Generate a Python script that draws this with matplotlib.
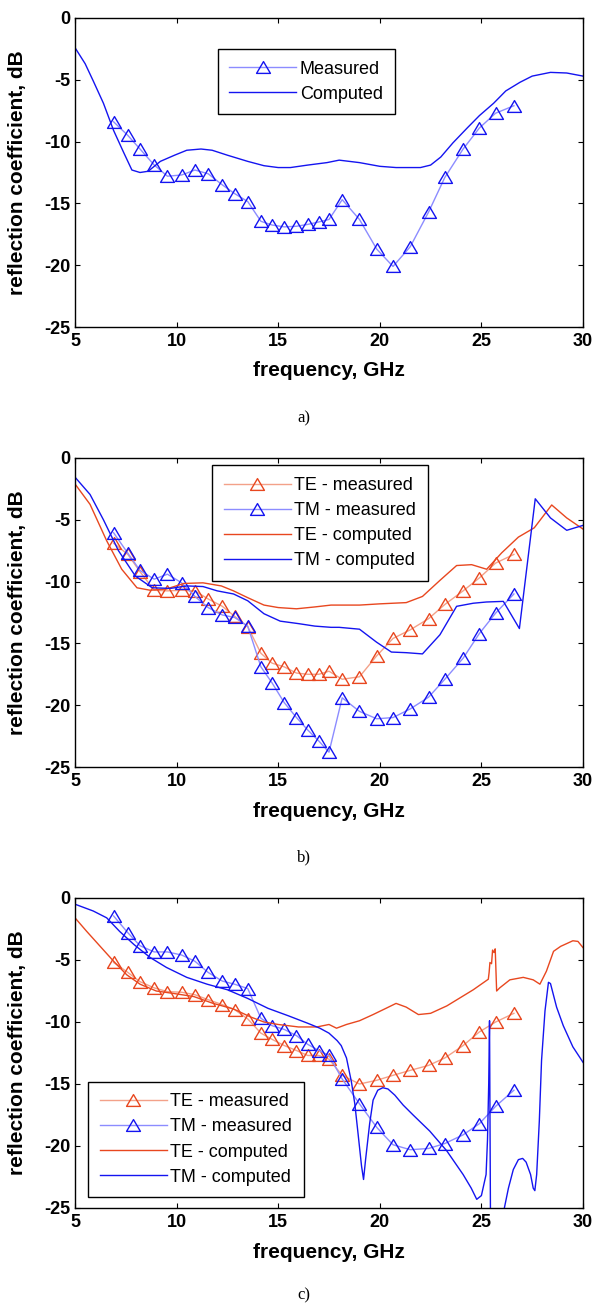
import numpy as np
import matplotlib
matplotlib.use("Agg")
import matplotlib.pyplot as plt
from matplotlib.path import Path

plt.rcParams['font.family'] = ['Liberation Sans', 'DejaVu Sans']
plt.rcParams['axes.unicode_minus'] = False

# ---------------- data ----------------
freq_meas = [6.9, 7.6, 8.2, 8.9, 9.55, 10.25, 10.9, 11.55, 12.25, 12.85, 13.5, 14.15,
             14.7, 15.3, 15.9, 16.45, 17.0, 17.5, 18.15, 19.0, 19.85, 20.65, 21.5,
             22.4, 23.2, 24.1, 24.9, 25.7, 26.6]

# panel a
a_meas = [-8.4, -9.5, -10.6, -11.9, -12.8, -12.7, -12.3, -12.6, -13.5, -14.2, -14.85,
          -16.45, -16.75, -16.9, -16.85, -16.7, -16.5, -16.3, -14.7, -16.3, -18.7,
          -20.1, -18.5, -15.7, -12.9, -10.6, -8.9, -7.7, -7.1]
a_comp_f = [5.0, 5.5, 5.9, 6.4, 6.9, 7.4, 7.8, 8.2, 8.6, 9.2, 9.9, 10.5, 11.2, 11.75,
            12.5, 13.5, 14.3, 15.0, 15.6, 16.45, 17.4, 18.0, 19.0, 20.0, 20.8, 22.0,
            22.5, 23.0, 23.6, 24.3, 24.9, 25.6, 26.2, 26.9, 27.5, 28.4, 29.2, 30.0]
a_comp = [-2.4, -3.7, -5.1, -6.9, -9.1, -10.9, -12.3, -12.5, -12.4, -11.6, -11.1, -10.7,
          -10.6, -10.7, -11.1, -11.6, -11.95, -12.1, -12.1, -11.9, -11.7, -11.5, -11.7,
          -12.0, -12.1, -12.1, -11.9, -11.25, -10.1, -8.9, -7.9, -6.9, -5.9, -5.2,
          -4.7, -4.4, -4.45, -4.7]

# panel b
b_te_meas = [-6.9, -7.8, -9.2, -10.7, -10.75, -10.7, -10.75, -11.4, -12.0, -12.8, -13.65,
             -15.8, -16.6, -16.9, -17.4, -17.5, -17.5, -17.25, -17.9, -17.7, -16.0,
             -14.6, -13.9, -13.0, -11.85, -10.75, -9.7, -8.5, -7.8]
b_tm_meas = [-6.05, -7.7, -9.1, -9.8, -9.4, -10.1, -11.2, -12.1, -12.7, -12.9, -13.6,
             -16.9, -18.2, -19.8, -21.0, -22.0, -22.9, -23.8, -19.4, -20.5, -21.1,
             -21.0, -20.3, -19.35, -17.9, -16.2, -14.2, -12.55, -11.0]
b_te_comp_f = [5.0, 5.74, 6.56, 7.3, 8.05, 8.7, 9.5, 10.35, 11.3, 12.2, 12.8, 13.5, 14.3,
               15.0, 15.9, 16.8, 17.6, 18.0, 19.0, 20.0, 21.3, 22.1, 22.96, 23.78,
               24.52, 25.26, 26.0, 26.82, 27.6, 28.46, 29.2, 30.0]
b_te_comp = [-2.1, -3.75, -6.7, -9.0, -10.5, -10.7, -10.6, -10.15, -10.1, -10.35, -10.75,
             -11.3, -11.9, -12.1, -12.2, -12.05, -11.9, -11.9, -11.9, -11.8, -11.7,
             -11.2, -9.9, -8.7, -8.63, -9.0, -7.67, -6.4, -5.65, -3.8, -4.85, -5.75]
b_tm_comp_f = [5.0, 5.74, 6.4, 7.14, 7.97, 8.8, 9.7, 10.5, 11.3, 12.0, 12.8, 13.5, 14.3,
               15.1, 16.0, 16.8, 17.6, 18.0, 19.0, 19.84, 20.57, 21.3, 22.1, 22.96,
               23.78, 24.6, 25.25, 26.08, 26.87, 27.65, 28.4, 29.2, 30.0]
b_tm_comp = [-1.55, -2.95, -5.0, -7.5, -9.55, -10.5, -10.55, -10.35, -10.4, -10.75, -11.0,
             -11.55, -12.6, -13.2, -13.4, -13.6, -13.7, -13.7, -13.85, -14.9, -15.7,
             -15.75, -15.85, -14.3, -12.0, -11.75, -11.65, -11.6, -13.8, -3.3, -4.85,
             -5.85, -5.45]

# panel c
c_te_meas = [-5.2, -6.0, -6.75, -7.25, -7.55, -7.6, -7.8, -8.2, -8.6, -9.0, -9.75, -10.9,
             -11.4, -11.9, -12.3, -12.7, -12.7, -13.0, -14.3, -15.0, -14.7, -14.3,
             -13.9, -13.5, -12.9, -11.9, -10.8, -10.0, -9.3]
c_tm_meas = [-1.45, -2.8, -3.85, -4.35, -4.35, -4.6, -5.1, -6.0, -6.7, -6.95, -7.3, -9.7,
             -10.3, -10.6, -11.1, -11.8, -12.3, -12.7, -14.6, -16.6, -18.5, -19.9,
             -20.3, -20.2, -19.8, -19.1, -18.2, -16.8, -15.5]
c_te_comp_f = [5.0, 5.58, 6.24, 6.9, 7.55, 8.2, 9.0, 9.86, 10.85, 11.8, 12.8, 13.65, 14.3,
               15.0, 16.0, 16.9, 17.5, 17.87, 18.36, 19.0, 19.67, 20.3, 20.8, 21.3, 21.9,
               22.5, 23.3, 23.95, 24.6, 25.34, 25.38, 25.42, 25.5, 25.55, 25.62, 25.68,
               25.75, 25.9, 26.4, 27.06, 27.55, 27.88, 28.2, 28.55, 28.9, 29.5, 29.75, 30.0]
c_te_comp = [-1.6, -2.7, -3.9, -5.1, -6.2, -6.95, -7.5, -7.7, -7.95, -8.5, -8.95, -9.6,
             -10.0, -10.2, -10.4, -10.4, -10.2, -10.5, -10.2, -9.9, -9.4, -8.9, -8.5,
             -8.8, -9.4, -9.3, -8.7, -8.05, -7.4, -6.55, -6.0, -5.2, -5.3, -4.2, -4.4,
             -4.1, -7.5, -7.25, -6.6, -6.4, -6.6, -6.95, -5.9, -4.3, -3.9, -3.45, -3.5,
             -4.0]
c_tm_comp_f = [5.0, 5.9, 6.56, 7.2, 7.9, 8.7, 9.5, 10.5, 11.5, 12.5, 13.5, 14.5, 15.5,
               16.45, 17.05, 17.5, 17.9, 18.1, 18.36, 18.6, 18.77, 18.93, 19.1, 19.2,
               19.3, 19.5, 19.67, 19.9, 20.15, 20.4, 20.74, 21.15, 21.64, 22.46, 23.3,
               24.1, 24.5, 24.77, 25.0, 25.23, 25.3, 25.36, 25.4, 25.45, 25.7, 26.08,
               26.33, 26.57, 26.82, 27.03, 27.2, 27.42, 27.55, 27.63, 27.72, 27.85, 27.96,
               28.13, 28.3, 28.4, 28.7, 29.03, 29.5, 30.0]
c_tm_comp = [-0.5, -1.05, -1.6, -2.7, -3.75, -4.8, -5.6, -6.4, -6.95, -7.4, -8.1, -8.9,
             -9.5, -10.1, -10.5, -10.9, -11.5, -11.9, -12.9, -14.8, -16.6, -19.0, -21.6,
             -22.7, -21.1, -18.2, -16.3, -15.5, -15.3, -15.4, -15.9, -16.7, -17.5, -18.8,
             -20.4, -22.3, -23.4, -24.3, -24.0, -22.3, -19.5, -15.0, -9.9, -27.0, -30.0,
             -25.4, -23.4, -21.9, -21.1, -21.0, -21.3, -22.3, -23.4, -23.6, -22.3, -18.0,
             -13.1, -9.1, -6.8, -6.9, -8.8, -10.3, -12.0, -13.25]

xticks = [5, 10, 15, 20, 25, 30]
yticks = [0, -5, -10, -15, -20, -25]

# ---------------- style ----------------
BLUE = '#1414F0'
BLUE_L = '#8C8CFF'
RED = '#E8471F'
RED_L = '#F3A189'
TRI = Path([(0, 0.85), (-1, -0.85), (1, -0.85), (0, 0.85)],
           [Path.MOVETO, Path.LINETO, Path.LINETO, Path.CLOSEPOLY])
MS = 10

fig = plt.figure(figsize=(5.95, 13.07), dpi=100)
W, H = 595.0, 1307.0


def make_axes(top_px, bottom_px):
    left, right = 75, 583
    return fig.add_axes([left / W, 1 - bottom_px / H, (right - left) / W,
                         (bottom_px - top_px) / H])


def style(ax):
    ax.set_xlim(5, 30)
    ax.set_ylim(-25, 0)
    ax.set_xticks(xticks)
    ax.set_yticks(yticks)
    ax.set_yticklabels([str(v) for v in yticks])
    ax.tick_params(direction='in', top=True, right=True, length=3.5, width=0.8,
                   labelsize=13)
    ax.tick_params(axis='x', pad=4)
    ax.tick_params(axis='y', pad=3)
    for lab in ax.get_xticklabels() + ax.get_yticklabels():
        lab.set_fontweight('bold')
    for s in ax.spines.values():
        s.set_linewidth(1.0)
    ax.set_xlabel('frequency, GHz', fontsize=15, fontweight='bold', va='center')
    ax.xaxis.set_label_coords(0.5, -44 / 309.0)
    ax.set_ylabel('reflection coefficient, dB', fontsize=15, fontweight='bold',
                  va='center')
    ax.yaxis.set_label_coords(-57 / 508.0, 0.5)


def meas(ax, y, c, cl, label):
    ax.plot(freq_meas, y, color=cl, lw=1.0, marker=TRI, ms=MS, mfc='none',
            mec=c, mew=1.0, label=label)


def comp(ax, f, y, c, label):
    ax.plot(f, y, color=c, lw=1.0, label=label)


def legend(ax, x0, ytop):
    leg = ax.legend(loc='upper left', bbox_to_anchor=(x0, ytop), borderaxespad=0,
                    fancybox=False, edgecolor='black', framealpha=1, fontsize=13,
                    handlelength=3.7, handletextpad=0.2, borderpad=0.65,
                    labelspacing=0.45, numpoints=1)
    leg.get_frame().set_linewidth(1.0)
    return leg


# panel a
ax = make_axes(18, 327)
meas(ax, a_meas, BLUE, BLUE_L, 'Measured')
comp(ax, a_comp_f, a_comp, BLUE, 'Computed')
style(ax)
legend(ax, 0.281, 0.90)

# panel b
ax = make_axes(458, 767)
meas(ax, b_te_meas, RED, RED_L, 'TE - measured')
meas(ax, b_tm_meas, BLUE, BLUE_L, 'TM - measured')
comp(ax, b_te_comp_f, b_te_comp, RED, 'TE - computed')
comp(ax, b_tm_comp_f, b_tm_comp, BLUE, 'TM - computed')
style(ax)
legend(ax, 0.270, 0.977)

# panel c
ax = make_axes(898, 1208)
meas(ax, c_te_meas, RED, RED_L, 'TE - measured')
meas(ax, c_tm_meas, BLUE, BLUE_L, 'TM - measured')
comp(ax, c_te_comp_f, c_te_comp, RED, 'TE - computed')
comp(ax, c_tm_comp_f, c_tm_comp, BLUE, 'TM - computed')
style(ax)
legend(ax, 0.026, 0.408)

for txt, y in [('a)', 418), ('b)', 857), ('c)', 1295)]:
    fig.text(304 / W, 1 - y / H, txt, ha='center', va='center', fontsize=12,
             family='Liberation Serif')

fig.savefig('out.png', dpi=100)
